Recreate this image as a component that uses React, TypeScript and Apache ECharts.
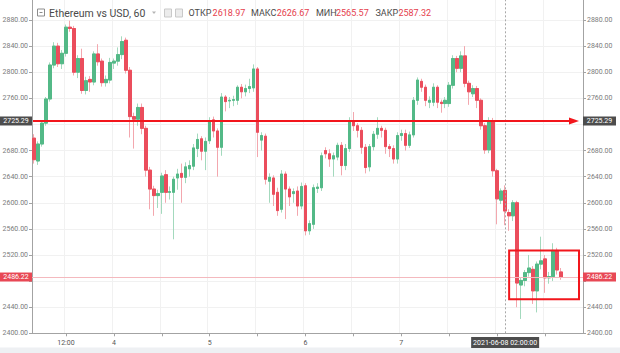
import React, { useEffect, useRef } from "react";
import * as echarts from "echarts";

// ---- data (hourly candles, ETH/USD, 2021-06-03 04:00 .. 2021-06-08 16:00) ----
const opens = [
  2699, 2664, 2690, 2722, 2759, 2811, 2840, 2813, 2829, 2869,
  2867, 2800, 2821, 2772, 2789, 2785, 2828, 2817, 2784, 2788,
  2814, 2817, 2827, 2849, 2803, 2732, 2728, 2746, 2714, 2650,
  2621, 2611, 2616, 2643, 2616, 2616, 2638, 2645, 2639, 2652,
  2656, 2683, 2698, 2679, 2695, 2727, 2710, 2685, 2762, 2756,
  2757, 2757, 2777, 2770, 2775, 2776, 2805, 2696, 2702, 2633,
  2638, 2616, 2590, 2644, 2621, 2614, 2618, 2595, 2626, 2557,
  2567, 2622, 2623, 2680, 2675, 2667, 2670, 2688, 2657, 2683,
  2726, 2718, 2711, 2685, 2655, 2686, 2705, 2714, 2711, 2686,
  2683, 2667, 2703, 2706, 2688, 2704, 2757, 2786, 2777, 2754,
  2754, 2777, 2754, 2752, 2752, 2780, 2821, 2806, 2825, 2783,
  2767, 2775, 2757, 2718, 2681, 2726, 2649, 2604, 2618.97, 2585,
  2580, 2600, 2474, 2481, 2493, 2498, 2465, 2506, 2514, 2485,
  2487, 2527, 2494,
];
const closes = [
  2666, 2690, 2722, 2759, 2811, 2840, 2813, 2829, 2869, 2867,
  2800, 2821, 2772, 2787, 2785, 2828, 2816, 2784, 2789, 2815,
  2817, 2827, 2847, 2803, 2732, 2728, 2746, 2714, 2650, 2621,
  2611, 2614, 2641, 2616, 2617, 2636, 2644, 2639, 2655, 2657,
  2684, 2697, 2679, 2694, 2724, 2710, 2685, 2762, 2755, 2757,
  2758, 2777, 2770, 2775, 2778, 2805, 2708, 2703, 2636, 2639,
  2613, 2588, 2644, 2621, 2609, 2617, 2595, 2625, 2557, 2568,
  2623, 2624, 2672, 2675, 2667, 2672, 2688, 2657, 2683, 2726,
  2718, 2711, 2685, 2654, 2686, 2705, 2714, 2711, 2686, 2683,
  2667, 2703, 2706, 2688, 2704, 2757, 2788, 2777, 2757, 2757,
  2777, 2754, 2752, 2757, 2780, 2821, 2806, 2825, 2783, 2770,
  2775, 2757, 2718, 2681, 2726, 2649, 2606, 2618, 2587.32, 2580,
  2600, 2477, 2481, 2493, 2500, 2465, 2506, 2511, 2485, 2487,
  2527, 2497, 2486.22,
];
const lows = [
  2660, 2658, 2686, 2718, 2755, 2806, 2808, 2805, 2824, 2862,
  2795, 2791, 2767, 2766, 2770, 2780, 2810, 2778, 2778, 2783,
  2805, 2810, 2820, 2798, 2700, 2683, 2718, 2705, 2640, 2590,
  2580, 2592, 2583, 2600, 2605, 2544, 2620, 2600, 2630, 2640,
  2650, 2670, 2665, 2650, 2690, 2700, 2640, 2672, 2740, 2745,
  2748, 2750, 2760, 2763, 2768, 2770, 2670, 2680, 2628, 2600,
  2595, 2580, 2585, 2575, 2595, 2600, 2580, 2590, 2550, 2551,
  2560, 2615, 2618, 2668, 2655, 2640, 2665, 2642, 2650, 2678,
  2710, 2700, 2675, 2645, 2648, 2680, 2698, 2700, 2675, 2670,
  2660, 2660, 2695, 2680, 2684, 2700, 2750, 2770, 2748, 2745,
  2748, 2745, 2738, 2745, 2747, 2775, 2800, 2800, 2777, 2750,
  2762, 2745, 2712, 2675, 2676, 2640, 2567, 2598, 2565.57, 2557,
  2572, 2440, 2422, 2472, 2487, 2445, 2432, 2498, 2462, 2476,
  2480, 2490, 2482,
];
const highs = [
  2705, 2694, 2726, 2762, 2815, 2846, 2845, 2834, 2873, 2879,
  2871, 2826, 2836, 2793, 2794, 2832, 2843, 2821, 2795, 2822,
  2821, 2838, 2855, 2853, 2808, 2738, 2752, 2752, 2718, 2655,
  2626, 2620, 2646, 2650, 2625, 2640, 2652, 2660, 2662, 2665,
  2690, 2706, 2702, 2700, 2731, 2732, 2714, 2768, 2765, 2762,
  2764, 2780, 2782, 2781, 2790, 2812, 2808, 2708, 2706, 2645,
  2642, 2623, 2650, 2648, 2625, 2622, 2625, 2631, 2630, 2573,
  2628, 2630, 2677, 2685, 2682, 2677, 2692, 2693, 2690, 2731,
  2739, 2722, 2716, 2690, 2690, 2710, 2731, 2718, 2715, 2690,
  2688, 2708, 2712, 2712, 2709, 2762, 2792, 2790, 2781, 2763,
  2783, 2780, 2758, 2762, 2785, 2826, 2825, 2832, 2840, 2787,
  2780, 2779, 2760, 2722, 2731, 2730, 2652, 2622, 2626.67, 2590,
  2604, 2603, 2486, 2497, 2520, 2503, 2510, 2548, 2520, 2494,
  2538, 2531, 2500,
];

const START_UTC = Date.UTC(2021, 5, 3, 4, 0, 0);
const SLOT_COUNT = 138;
const pad = (n: number) => String(n).padStart(2, "0");
const categories: string[] = Array.from({ length: SLOT_COUNT }, (_, i) => {
  const d = new Date(START_UTC + i * 3600000);
  return `${d.getUTCFullYear()}-${pad(d.getUTCMonth() + 1)}-${pad(d.getUTCDate())} ${pad(d.getUTCHours())}:00:00`;
});
const xTickLabels: Record<string, string> = {
  "2021-06-03 12:00:00": "12:00",
  "2021-06-04 00:00:00": "4",
  "2021-06-05 00:00:00": "5",
  "2021-06-06 00:00:00": "6",
  "2021-06-07 00:00:00": "7",
};
const yHiddenLabels = [2720, 2480, 2920];
const crosshairTime = "2021-06-08 02:00:00";
const levelPrice = 2725.29;
const lastPrice = 2486.22;
const headerTitle = "Ethereum vs USD, 60";
const headerFields = [
  { label: "ОТКР", value: "2618.97", lx: 188.5, vx: 212.6 },
  { label: "МАКС", value: "2626.67", lx: 251, vx: 276.7 },
  { label: "МИН", value: "2565.57", lx: 316, vx: 336 },
  { label: "ЗАКР", value: "2587.32", lx: 375.5, vx: 398.4 },
];
const boxRange = { fromIndex: 119, toIndex: 136.5, top: 2527, bottom: 2452 };

const UP = "#53b987";
const DOWN = "#eb4d5c";
const UP_WICK = "#a3d9bd";
const DOWN_WICK = "#f3a7ae";
const RED = "#f2161c";
const FONT = 'Roboto, "Noto Sans", sans-serif';
const OY = 20; // chart div is shifted 20px up

export default function App() {
  const ref = useRef<HTMLDivElement>(null);
  useEffect(() => {
    const chart = echarts.init(ref.current!, null, { renderer: "svg" });
    const full = opens.map((o, i) => [o, closes[i], lows[i], highs[i]]);
    const bodies = opens.map((o, i) => [o, closes[i], Math.min(o, closes[i]), Math.max(o, closes[i])]);
    const hourOf = (idx: number) => Number(categories[idx].slice(11, 13));
    const yLabel = (v: number) => (yHiddenLabels.includes(v) ? "" : v.toFixed(2));
    const yAxisBase = {
      type: "value",
      min: 2400,
      max: 2920,
      interval: 40,
      scale: true,
      axisLine: { show: true, lineStyle: { color: "#a3a3a3", width: 1 } },
      axisTick: { show: true, length: 3, lineStyle: { color: "#a3a3a3" } },
      axisLabel: { color: "#7b7b7b", fontSize: 7, fontFamily: FONT, formatter: yLabel, margin: 4 },
    };
    chart.setOption({
      animation: false,
      backgroundColor: "#ffffff",
      grid: { left: 32, right: 37, top: 13.9, bottom: 19.7, containLabel: false, outerBoundsMode: "none" },
      xAxis: {
        type: "category",
        data: categories,
        boundaryGap: true,
        axisLine: { show: true, lineStyle: { color: "#a3a3a3" } },
        axisTick: {
          show: true,
          alignWithLabel: true,
          length: 3,
          interval: (idx: number) => hourOf(idx) % 12 === 0,
          lineStyle: { color: "#a3a3a3" },
        },
        axisLabel: {
          interval: (_idx: number, val: string) => xTickLabels[val] !== undefined,
          formatter: (val: string) => xTickLabels[val] ?? "",
          color: "#555",
          fontSize: 7,
          fontFamily: FONT,
          margin: 6,
        },
        splitLine: {
          show: true,
          interval: (idx: number) => hourOf(idx) % 12 === 0,
          lineStyle: { color: "#f1f1f1" },
        },
      },
      yAxis: [
        { ...yAxisBase, position: "left", splitLine: { show: true, lineStyle: { color: "#f1f1f1" } } },
        { ...yAxisBase, position: "right", splitLine: { show: false } },
      ],
      series: [
        {
          name: "wicks",
          type: "candlestick",
          data: full,
          barWidth: 3,
          itemStyle: { color: UP_WICK, color0: DOWN_WICK, borderColor: UP_WICK, borderColor0: DOWN_WICK, borderWidth: 1 },
          markLine: {
            silent: true,
            symbol: ["none", "none"],
            label: { show: false },
            data: [
              { yAxis: lastPrice, lineStyle: { color: "#f4b9be", width: 1, type: "solid" } },
              { xAxis: crosshairTime, lineStyle: { color: "#a8a8a8", width: 1, type: [2, 2] } },
            ],
          },
        },
        {
          name: "bodies",
          type: "candlestick",
          data: bodies,
          barWidth: 3,
          itemStyle: { color: UP, color0: DOWN, borderColor: UP, borderColor0: DOWN, borderWidth: 1 },
        },
      ],
    });

    const py = (v: number) => chart.convertToPixel({ yAxisIndex: 0 }, v) as number;
    const x0 = chart.convertToPixel({ xAxisIndex: 0 }, 0) as number;
    const x1 = chart.convertToPixel({ xAxisIndex: 0 }, 1) as number;
    const px = (k: number) => x0 + k * (x1 - x0);
    const yL = py(levelPrice);
    const yP = py(lastPrice);
    const xC = chart.convertToPixel({ xAxisIndex: 0 }, categories.indexOf(crosshairTime)) as number;
    const bx0 = px(boxRange.fromIndex);
    const bx1 = px(boxRange.toIndex);
    const by0 = py(boxRange.top);
    const by1 = py(boxRange.bottom);

    const txt = (text: string, x: number, y: number, fill: string, size: number, align = "left") => ({
      type: "text",
      x,
      y,
      z: 20,
      style: {
        text,
        fill,
        font: `${size}px ${FONT}`,
        align,
        verticalAlign: "middle",
        textAlign: align,
        textVerticalAlign: "middle",
      },
    });
    const priceTag = (x: number, w: number, y: number, fill: string, text: string) => [
      { type: "rect", z: 19, shape: { x, y: y - 4.5, width: w, height: 9 }, style: { fill } },
      txt(text, x + w / 2, y, "#ffffff", 7, "center"),
    ];

    const hy = OY + 13;
    const graphics: any[] = [
      // header
      { type: "rect", z: 20, shape: { x: 37.5, y: hy - 4, width: 7, height: 7 }, style: { fill: "none", stroke: "#8c8c8c", lineWidth: 1 } },
      { type: "line", z: 20, shape: { x1: 39.5, y1: hy - 0.5, x2: 42.5, y2: hy - 0.5 }, style: { stroke: "#8c8c8c", lineWidth: 1 } },
      txt(headerTitle, 49, hy, "#4a4a4a", 10.5),
      { type: "polygon", z: 20, shape: { points: [[152, hy - 1.5], [156, hy - 1.5], [154, hy + 1]] }, style: { fill: "#b5b5b5" } },
      { type: "rect", z: 20, shape: { x: 164.5, y: hy - 4, width: 7, height: 8 }, style: { fill: "#ececec", stroke: "#c9c9c9", lineWidth: 1 } },
      { type: "rect", z: 20, shape: { x: 175.5, y: hy - 4, width: 7, height: 8 }, style: { fill: "#ececec", stroke: "#c9c9c9", lineWidth: 1 } },
      ...headerFields.flatMap((f) => [txt(f.label, f.lx, hy, "#4a4a4a", 9), txt(f.value, f.vx, hy, "#e5404d", 9)]),
      // level line with arrow
      { type: "line", z: 15, shape: { x1: 33, y1: yL, x2: 571, y2: yL }, style: { stroke: RED, lineWidth: 2 } },
      { type: "polygon", z: 15, shape: { points: [[569, yL - 3.5], [579, yL], [569, yL + 3.5]] }, style: { fill: RED } },
      // highlight box
      { type: "rect", z: 15, shape: { x: bx0, y: by0, width: bx1 - bx0, height: by1 - by0 }, style: { fill: "none", stroke: RED, lineWidth: 2 } },
      // price tags
      ...priceTag(0, 32, yL, "#4d4d4d", levelPrice.toFixed(2)),
      ...priceTag(583, 33, yL, "#4d4d4d", levelPrice.toFixed(2)),
      ...priceTag(0, 32, yP, "#e84855", lastPrice.toFixed(2)),
      ...priceTag(583, 33, yP, "#e84855", lastPrice.toFixed(2)),
      // crosshair time tag
      { type: "rect", z: 19, shape: { x: xC - 34, y: OY + 337, width: 68, height: 11 }, style: { fill: "#4d4d4d" } },
      txt(crosshairTime, xC, OY + 342.5, "#ffffff", 7, "center"),
      // bottom strip
      { type: "rect", z: 1, shape: { x: 0, y: OY + 347.5, width: 620, height: 6 }, style: { fill: "#eef0f3" } },
    ];
    chart.setOption({ graphic: graphics });
    return () => chart.dispose();
  }, []);
  return (
    <div
      ref={ref}
      style={{ position: "fixed", left: 0, top: -OY, width: 620, height: 353 + OY, background: "#fff" }}
    />
  );
}
